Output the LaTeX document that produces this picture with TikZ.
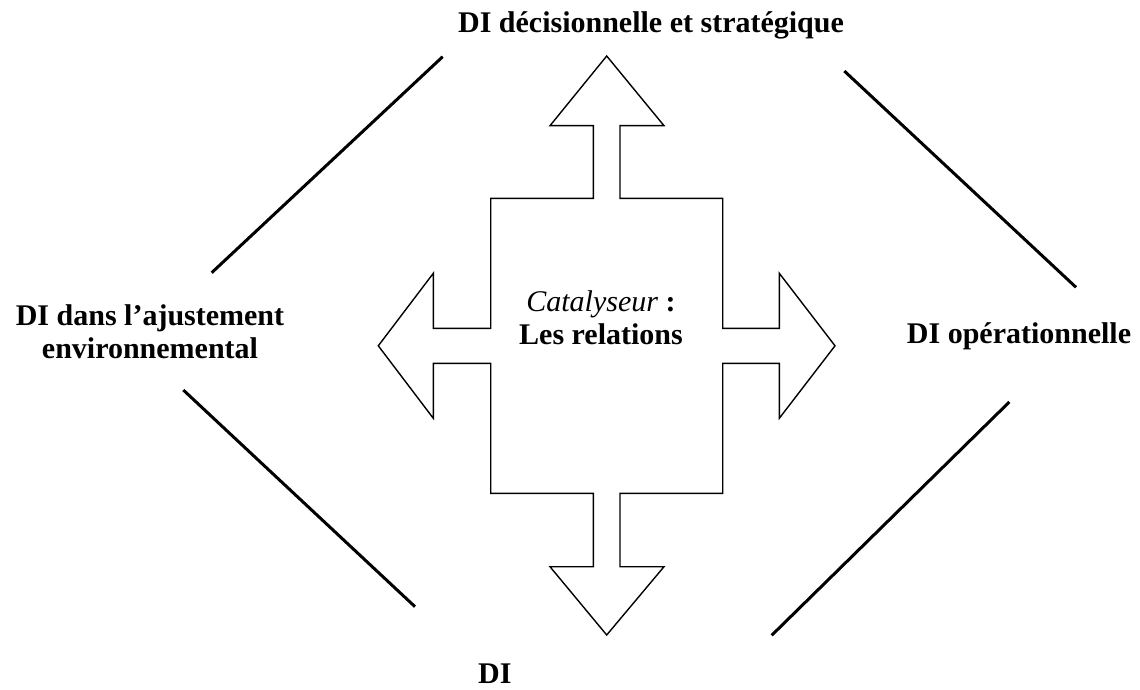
\documentclass[tikz,border=0pt]{standalone}
\usepackage{fontspec}
\setmainfont{Liberation Serif}
\begin{document}
\begin{tikzpicture}[x=1pt,y=-1pt,
  label/.style={font=\fontsize{30}{33}\selectfont\bfseries, inner sep=0pt, align=center},
  frame/.style={line width=3pt, line cap=butt},
  cross/.style={draw=black, line width=1.4pt, fill=white, line join=miter}]
  \useasboundingbox (0,0) rectangle (1140,690);

  % four-way arrow around the central box
  \draw[cross]
    (606.7,56) -- (664,125.7) -- (620,125.7) -- (620,198.3) -- (722.7,198.3)
    -- (722.7,328.3) -- (779.3,328.3) -- (779.3,273.3) -- (835,345.8)
    -- (779.3,418.3) -- (779.3,363.3) -- (722.7,363.3) -- (722.7,493.3)
    -- (620,493.3) -- (620,566.7) -- (664,566.7) -- (606.7,635)
    -- (550,566.7) -- (593.3,566.7) -- (593.3,493.3) -- (490.7,493.3)
    -- (490.7,363.3) -- (433.3,363.3) -- (433.3,418.3) -- (378.3,345.8)
    -- (433.3,273.3) -- (433.3,328.3) -- (490.7,328.3) -- (490.7,198.3)
    -- (593.3,198.3) -- (593.3,125.7) -- (550,125.7) -- cycle;

  % labels (base anchor of a two-line label sits on its last line)
  \node[label, anchor=base] (top) at (651,33) {DI décisionnelle et stratégique};
  \node[label, anchor=base] (right) at (1019,343) {DI opérationnelle};
  \node[label, anchor=base] (left) at (150,358) {DI dans l’ajustement\\environnemental};
  \node[font=\fontsize{30}{33}\selectfont\bfseries, inner sep=0pt, anchor=base west]
    (bottom) at (478,683) {DI};
  \node[label, anchor=base] (centre) at (601,344)
    {\textit{\mdseries Catalyseur} :\\Les relations};

  % diagonal strokes framing the diagram
  \coordinate (tl1) at (442.7,56.7);  \coordinate (tl2) at (211.7,272.7);
  \coordinate (tr1) at (844.3,71);    \coordinate (tr2) at (1076,287.3);
  \coordinate (bl1) at (183.3,390);   \coordinate (bl2) at (415,606.7);
  \coordinate (br1) at (1009.3,402);  \coordinate (br2) at (771.7,635.3);
  \draw[frame] (tl1) -- (tl2);
  \draw[frame] (tr1) -- (tr2);
  \draw[frame] (bl1) -- (bl2);
  \draw[frame] (br1) -- (br2);
\end{tikzpicture}
\end{document}
